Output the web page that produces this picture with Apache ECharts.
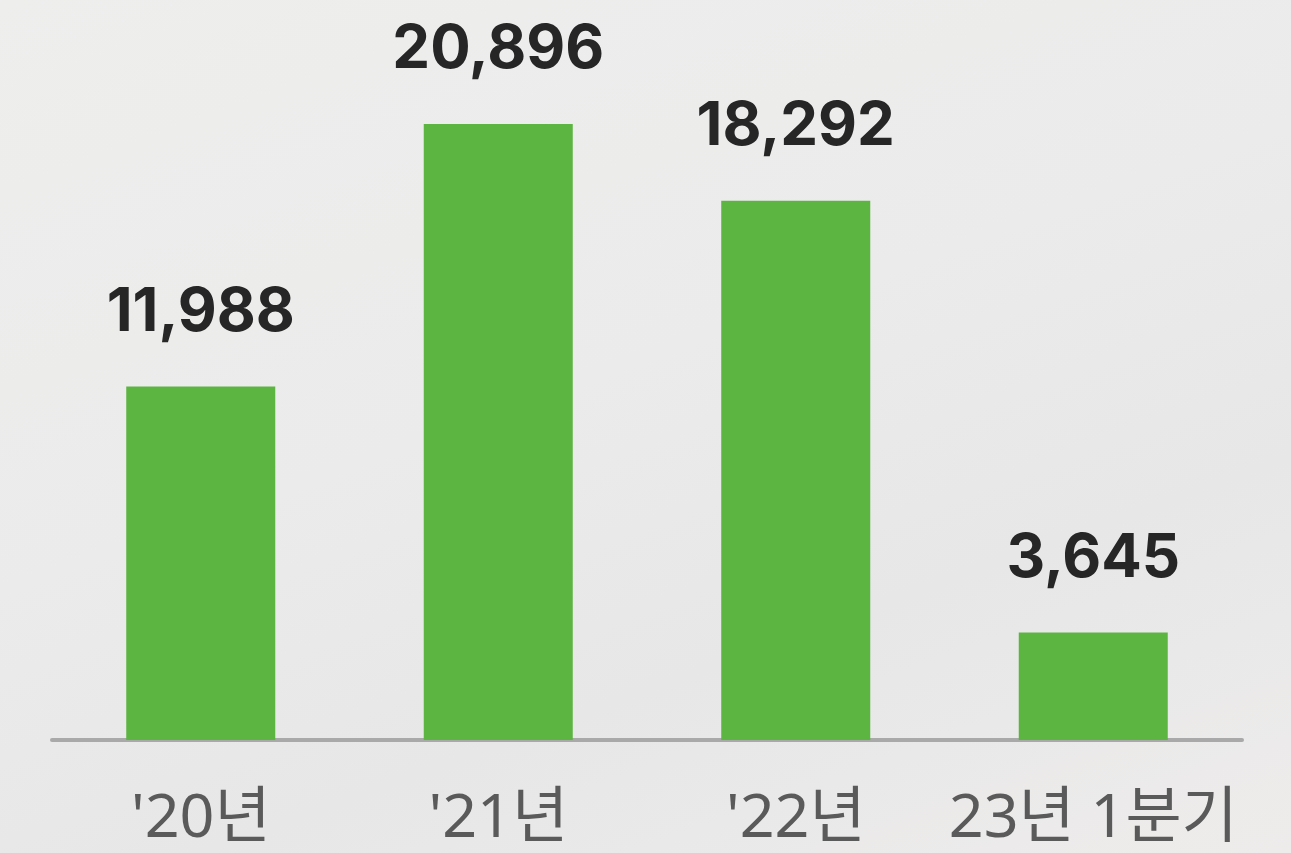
<!DOCTYPE html>
<html>
<head>
<meta charset="utf-8">
<script src="https://cdn.jsdelivr.net/npm/echarts@6/dist/echarts.min.js"></script>
<style>
  html, body { margin: 0; padding: 0; }
  #main {
    width: 1291px; height: 853px;
    background: linear-gradient(160deg, #eeeeed 0%, #ebebeb 45%, #e7e7e8 70%, #eeeceb 100%);
  }
</style>
</head>
<body>
<div id="main"></div>
<script>
// 연도별 값
var years = ["'20년", "'21년", "'22년", "23년 1분기"];
var counts = [11988, 20896, 18292, 3645];

var chart = echarts.init(document.getElementById('main'));
chart.setOption({
  backgroundColor: 'transparent',
  grid: { left: 52, right: 49, top: 124, bottom: 113 },
  xAxis: {
    type: 'category',
    data: years,
    axisLine: { lineStyle: { color: '#a9a9a9', width: 4 } },
    axisTick: { show: false },
    axisLabel: {
      interval: 0,
      margin: 49,
      fontSize: 61,
      color: '#5a5a5a',
      fontFamily: '"Noto Sans", "Noto Sans CJK KR"'
    }
  },
  yAxis: {
    type: 'value',
    min: 0,
    max: 20896,
    show: false
  },
  series: [{
    type: 'bar',
    data: counts,
    barWidth: 149,
    itemStyle: { color: '#5cb541' },
    label: {
      show: true,
      position: 'top',
      distance: 44,
      fontSize: 60,
      fontWeight: 'bold',
      color: '#262626',
      fontFamily: 'Inter',
      formatter: function (p) {
        return p.value.toLocaleString('en-US');
      }
    }
  }]
});
</script>
</body>
</html>
